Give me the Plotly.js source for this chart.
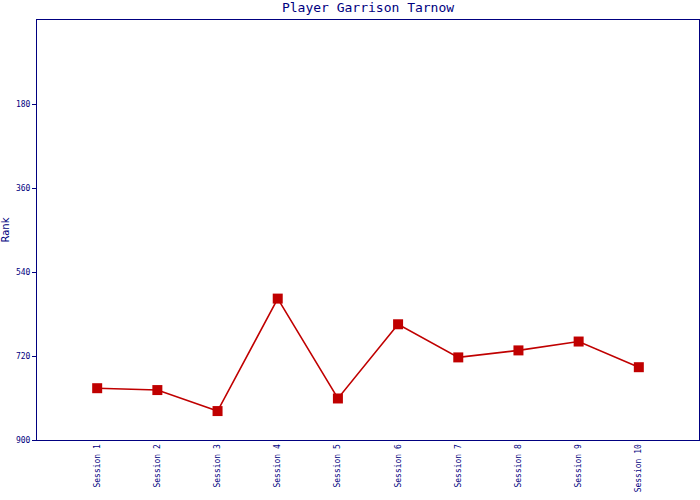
<!DOCTYPE html>
<html>
<head>
<meta charset="utf-8">
<script src="https://cdn.plot.ly/plotly-3.0.1.min.js"></script>
<style>html,body{margin:0;padding:0;background:#fff}#chart{width:700px;height:500px}</style>
</head>
<body>
<div id="chart"></div>
<script>
const sessions = ["Session 1","Session 2","Session 3","Session 4","Session 5","Session 6","Session 7","Session 8","Session 9","Session 10"];
const ranks = [789, 793, 838, 597, 811, 652, 723, 708, 689, 744];
const yTicks = [180, 360, 540, 720, 900];

const navy = "#000080";
const idx = sessions.map((_, i) => i);

Plotly.newPlot("chart", [{
  x: idx,
  y: ranks,
  type: "scatter",
  mode: "lines+markers",
  line: {color: "#c00000", width: 1.6},
  marker: {symbol: "square", size: 10, color: "#c00000"},
  hoverinfo: "none"
}], {
  width: 700, height: 500,
  margin: {l: 37, r: 1, t: 20, b: 60},
  paper_bgcolor: "#fff", plot_bgcolor: "#fff",
  showlegend: false,
  title: {text: "Player Garrison Tarnow", x: 0.5, xref: "paper", y: 0.995, yanchor: "top",
          font: {family: "DejaVu Sans Mono, monospace", size: 13, color: navy}},
  xaxis: {
    range: [-1, 10], tickvals: idx, ticktext: sessions, tickangle: -90,
    showgrid: false, zeroline: false, showline: true, linecolor: navy, linewidth: 1, mirror: true,
    ticks: "", tickfont: {family: "DejaVu Sans Mono, monospace", size: 8, color: navy}
  },
  yaxis: {
    range: [900, 0], tickvals: yTicks, ticktext: yTicks.map(String),
    showgrid: false, zeroline: false, showline: true, linecolor: navy, linewidth: 1, mirror: true,
    ticks: "outside", ticklen: 4, tickcolor: navy,
    tickfont: {family: "DejaVu Sans Mono, monospace", size: 8, color: navy},
    title: {text: "Rank", standoff: 6, font: {family: "DejaVu Sans, sans-serif", size: 10, color: navy}}
  }
}, {staticPlot: true});
</script>
</body>
</html>
